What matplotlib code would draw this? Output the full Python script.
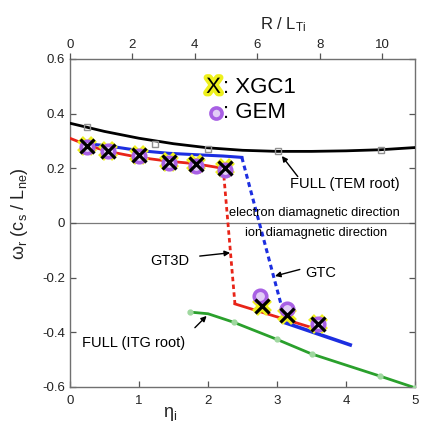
import matplotlib
matplotlib.use("Agg")
import matplotlib.pyplot as plt
import matplotlib.patheffects as pe

plt.rcParams['font.family'] = ['Liberation Sans', 'DejaVu Sans']
plt.rcParams['mathtext.fontset'] = 'custom'
plt.rcParams['mathtext.rm'] = 'Liberation Sans'
plt.rcParams['mathtext.it'] = 'Liberation Sans:italic'

# ---------------- data ----------------
eta_ticks = [0, 1, 2, 3, 4, 5]
y_ticks = [-0.6, -0.4, -0.2, 0, 0.2, 0.4, 0.6]
y_ticklabels = ['-0.6', '-0.4', '-0.2', '0', '0.2', '0.4', '0.6']
rlt_ticks = [0, 2, 4, 6, 8, 10]
rlt_max = 11.06

# FULL (TEM root) curve and markers
tem_x = [0.0, 0.25, 0.5, 1.0, 1.5, 2.0, 2.5, 3.0, 3.5, 4.0, 4.5, 5.0]
tem_y = [0.365, 0.35, 0.335, 0.31, 0.29, 0.275, 0.266, 0.262, 0.262, 0.264, 0.268, 0.276]
tem_mx = [0.25, 1.23, 2.0, 3.02, 4.5]
tem_my = [0.35, 0.29, 0.272, 0.264, 0.266]

# GT3D (red)
gt3d_x1 = [0.0, 0.25, 0.55, 1.0, 1.43, 1.81, 2.22]
gt3d_y1 = [0.31, 0.285, 0.262, 0.24, 0.226, 0.217, 0.2]
gt3d_dx = [2.22, 2.39]
gt3d_dy = [0.2, -0.296]
gt3d_x2 = [2.39, 3.52]
gt3d_y2 = [-0.296, -0.384]

# GTC (blue)
gtc_x1 = [0.25, 0.55, 1.0, 1.43, 1.81, 2.22, 2.49]
gtc_y1 = [0.29, 0.282, 0.265, 0.255, 0.25, 0.245, 0.24]
gtc_dx = [2.49, 3.13]
gtc_dy = [0.24, -0.366]
gtc_x2 = [3.13, 4.06]
gtc_y2 = [-0.366, -0.446]

# FULL (ITG root) green
itg_x = [1.74, 2.0, 2.37, 3.0, 3.5, 4.0, 4.49, 5.0]
itg_y = [-0.326, -0.332, -0.363, -0.426, -0.479, -0.52, -0.56, -0.603]
itg_mx = [1.74, 2.37, 3.0, 3.5, 4.49, 5.0]
itg_my = [-0.326, -0.363, -0.426, -0.479, -0.56, -0.603]

# XGC1 and GEM points
xgc_x = [0.24, 0.55, 1.0, 1.44, 1.83, 2.24, 2.78, 3.14, 3.6]
xgc_y = [0.282, 0.265, 0.25, 0.222, 0.215, 0.2, -0.305, -0.335, -0.37]
gem_x = [0.24, 0.55, 1.0, 1.44, 1.83, 2.24, 2.76, 3.14, 3.6]
gem_y = [0.278, 0.262, 0.246, 0.22, 0.21, 0.194, -0.266, -0.316, -0.369]

RED = '#e82418'
BLUE = '#1c2ee0'
GREEN = '#2aa02c'
PURPLE = '#a860e4'
YELLOW = '#eef01c'

fig = plt.figure(figsize=(4.24, 4.36), dpi=100)
ax = fig.add_axes([0.165, 0.1124, 0.814, 0.7523])

ax.axhline(0, color='#7a7a7a', lw=0.9, zorder=1)

ax.plot(tem_x, tem_y, color='black', lw=2.0, zorder=3)
ax.plot(tem_mx, tem_my, ls='none', marker='s', ms=4.5, mfc='none', mec='#909090', mew=1.0, zorder=3)

ax.plot(gt3d_x1, gt3d_y1, color=RED, lw=2.0, zorder=3)
ax.plot(gt3d_dx, gt3d_dy, color=RED, lw=2.0, ls=(0, (1.6, 1.2)), zorder=3)
ax.plot(gt3d_x2, gt3d_y2, color=RED, lw=2.0, zorder=3)

ax.plot(gtc_x1, gtc_y1, color=BLUE, lw=2.2, zorder=3)
ax.plot(gtc_dx, gtc_dy, color=BLUE, lw=2.2, ls=(0, (1.6, 1.2)), zorder=3)
ax.plot(gtc_x2, gtc_y2, color=BLUE, lw=2.6, zorder=3)

ax.plot(itg_x, itg_y, color=GREEN, lw=2.0, zorder=3)
ax.plot(itg_mx, itg_my, ls='none', marker='o', ms=3.5, mfc='#9fd89f', mec='#9fd89f', zorder=3)

# XGC1 yellow glow
ax.plot(xgc_x, xgc_y, ls='none', marker='x', ms=10.5, mec=YELLOW, mew=6, zorder=4)
# GEM circles
ax.plot(gem_x, gem_y, ls='none', marker='o', ms=9, mfc='#e2cdf6', mec=PURPLE, mew=2.6, zorder=5)
# XGC1 black X
ax.plot(xgc_x, xgc_y, ls='none', marker='x', ms=9.5, mec='black', mew=2.3, zorder=6)

ax.set_xlim(0, 5)
ax.set_ylim(-0.6, 0.6)
ax.set_xticks(eta_ticks)
ax.set_yticks(y_ticks)
ax.set_yticklabels(y_ticklabels)
ax.tick_params(direction='in', length=4, width=0.9, color='#555555', labelsize=9.5,
               labelcolor='#222222', top=True, right=True, labeltop=False)
ax.tick_params(axis='x', pad=6)
for s in ax.spines.values():
    s.set_color('#707070')
    s.set_linewidth(1.0)

ax2 = ax.twiny()
ax2.set_xlim(0, rlt_max)
ax2.set_xticks(rlt_ticks)
ax2.tick_params(axis='x', direction='out', length=4, width=0.9, color='#555555', labelsize=9.5,
                labelcolor='#222222', pad=2)
for s in ax2.spines.values():
    s.set_visible(False)

# labels
fig.text(170 / 424, 1 - 414 / 436, r'η$_\mathrm{i}$', fontsize=13, ha='center', va='center', color='#222222')
fig.text(20 / 424, 1 - 214 / 436, r'ω$_\mathrm{r}$ (c$_\mathrm{s}$ / L$_\mathrm{ne}$)', fontsize=13,
         rotation=90, ha='center', va='center', color='#222222')
fig.text(283 / 424, 1 - 25 / 436, r'R / L$_\mathrm{Ti}$', fontsize=12, ha='center', va='center', color='#222222')

# legend-like texts
ax.text(2.08, 0.496, 'X', fontsize=16, ha='center', va='center', color='black',
        path_effects=[pe.withStroke(linewidth=5, foreground=YELLOW)], zorder=7)
ax.text(2.22, 0.496, ': XGC1', fontsize=16, ha='left', va='center', color='black')
ax.plot([2.12], [0.404], ls='none', marker='o', ms=8, mfc='#e2cdf6', mec=PURPLE, mew=2.6)
ax.text(2.22, 0.404, ': GEM', fontsize=16, ha='left', va='center', color='black')

# annotations
ap = dict(arrowstyle='-|>', color='black', lw=1.0, mutation_scale=8, shrinkA=0, shrinkB=0)
ax.text(3.19, 0.143, 'FULL (TEM root)', fontsize=10.5, ha='left', va='center')
ax.annotate('', xy=(3.07, 0.245), xytext=(3.3, 0.17), arrowprops=ap)
ax.text(2.30, 0.037, 'electron diamagnetic direction', fontsize=9.3, ha='left', va='center')
ax.text(2.54, -0.035, 'ion diamagnetic direction', fontsize=9.3, ha='left', va='center')
ax.text(1.16, -0.139, 'GT3D', fontsize=10.5, ha='left', va='center')
ax.annotate('', xy=(2.32, -0.109), xytext=(1.88, -0.121), arrowprops=ap)
ax.text(3.41, -0.182, 'GTC', fontsize=10.5, ha='left', va='center')
ax.annotate('', xy=(2.97, -0.194), xytext=(3.33, -0.17), arrowprops=ap)
ax.text(0.17, -0.438, 'FULL (ITG root)', fontsize=10.5, ha='left', va='center')
ax.annotate('', xy=(1.98, -0.34), xytext=(1.81, -0.383), arrowprops=ap)

fig.savefig('out.png', dpi=100)
